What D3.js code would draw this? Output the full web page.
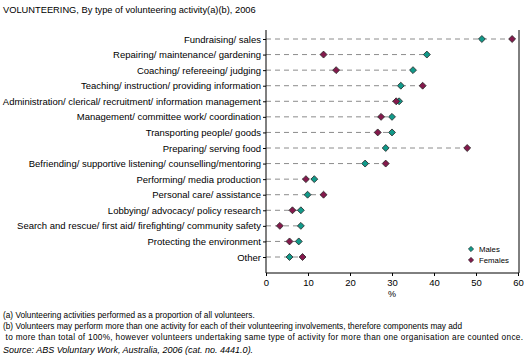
<!DOCTYPE html>
<html>
<head>
<meta charset="utf-8">
<script src="https://cdn.jsdelivr.net/npm/d3@7.9.0/dist/d3.min.js"></script>
<style>
  body { margin: 0; background: #fff; }
  svg { display: block; font-family: "Liberation Sans", Arial, sans-serif; }
</style>
</head>
<body>
<svg id="chart" width="529" height="363"></svg>
<script>
const activities = [
  "Fundraising/ sales",
  "Repairing/ maintenance/ gardening",
  "Coaching/ refereeing/ judging",
  "Teaching/ instruction/ providing information",
  "Administration/ clerical/ recruitment/ information management ",
  "Management/ committee work/ coordination",
  "Transporting people/ goods",
  "Preparing/ serving food",
  "Befriending/ supportive listening/ counselling/mentoring",
  "Performing/ media production",
  "Personal care/ assistance",
  "Lobbying/ advocacy/ policy research",
  "Search and rescue/ first aid/ firefighting/ community safety",
  "Protecting the environment",
  "Other"
];
const males   = [51.4, 38.3, 35.0, 32.1, 31.7, 30.0, 30.0, 28.5, 23.6, 11.5, 9.9, 8.3, 8.3, 7.8, 5.6];
const females = [58.6, 13.7, 16.7, 37.3, 31.0, 27.4, 26.6, 47.9, 28.5, 9.5, 13.7, 6.3, 3.3, 5.6, 8.7];
const xTicks = [0, 10, 20, 30, 40, 50, 60];

const maleColor = "#119a8a";
const femaleColor = "#84194c";

const svg = d3.select("#chart");
const plotLeft = 266, plotRight = 518, plotTop = 30, plotBottom = 273;

const x = d3.scaleLinear().domain([0, 60]).range([plotLeft, plotRight]);
const y = d3.scalePoint().domain(activities).range([39, 257]);

// title
svg.append("text")
  .attr("x", 3).attr("y", 13)
  .attr("font-size", 9.3)
  .text("VOLUNTEERING, By type of volunteering activity(a)(b), 2006");

// dashed guide lines out to the furthest point
activities.forEach((a, i) => {
  svg.append("line")
    .attr("x1", plotLeft).attr("x2", x(Math.max(males[i], females[i])))
    .attr("y1", y(a)).attr("y2", y(a))
    .attr("stroke", "#8c8c8c")
    .attr("stroke-dasharray", "5,4");
});

// axes
const yAxis = svg.append("g")
  .attr("transform", `translate(${plotLeft},0)`)
  .call(d3.axisLeft(y).tickSize(3).tickPadding(2));
yAxis.select(".domain").remove();
yAxis.selectAll("text").attr("font-size", 9.5).attr("fill", "#000").attr("font-family", null);

const xAxis = svg.append("g")
  .attr("transform", `translate(0,${plotBottom})`)
  .call(d3.axisBottom(x).tickValues(xTicks).tickSize(3).tickPadding(3));
xAxis.select(".domain").remove();
xAxis.selectAll("text").attr("font-size", 9.5).attr("fill", "#000").attr("font-family", null);

// frame
svg.append("path")
  .attr("d", `M${plotLeft},${plotTop}V${plotBottom}H${plotRight + 1}V${plotTop}`)
  .attr("fill", "none")
  .attr("stroke", "#000");

svg.append("text")
  .attr("x", (plotLeft + plotRight) / 2).attr("y", 297)
  .attr("text-anchor", "middle")
  .attr("font-size", 9)
  .text("%");

// markers: small square diamonds
const diamond = d3.symbol().type(d3.symbolSquare).size(24);
function drawSeries(values, color) {
  svg.append("g").selectAll("path")
    .data(values)
    .join("path")
    .attr("d", diamond)
    .attr("transform", (d, i) => `translate(${x(d)},${y(activities[i])}) rotate(45)`)
    .attr("fill", color)
    .attr("stroke", "#2a2a2a")
    .attr("stroke-width", 0.8);
}
drawSeries(males, maleColor);
drawSeries(females, femaleColor);

// legend
const legend = svg.append("g").attr("transform", "translate(471,249)");
[["Males", maleColor], ["Females", femaleColor]].forEach(([label, color], i) => {
  legend.append("path")
    .attr("d", d3.symbol().type(d3.symbolSquare).size(14))
    .attr("transform", `translate(0,${i * 11}) rotate(45)`)
    .attr("fill", color)
    .attr("stroke", "#2a2a2a")
    .attr("stroke-width", 0.6);
  legend.append("text")
    .attr("x", 8).attr("y", i * 11 + 3)
    .attr("font-size", 7.8)
    .text(label);
});

// footnotes
const notes = [
  "(a) Volunteering activities performed as a proportion of all volunteers.",
  "(b) Volunteers may perform more than one activity for each of their volunteering involvements, therefore components may add",
  " to more than total of 100%, however volunteers undertaking same type of activity for more than one organisation are counted once."
];
notes.forEach((t, i) => {
  const line = svg.append("text")
    .attr("x", 3).attr("y", 318 + i * 11)
    .attr("font-size", 8.25)
    .style("white-space", "pre")
    .text(t);
  if (i === 2) line.attr("textLength", 520).attr("lengthAdjust", "spacing");
});
svg.append("text")
  .attr("x", 3).attr("y", 353)
  .attr("font-size", 9)
  .attr("font-style", "italic")
  .text("Source: ABS Voluntary Work, Australia, 2006 (cat. no. 4441.0).");
</script>
</body>
</html>
